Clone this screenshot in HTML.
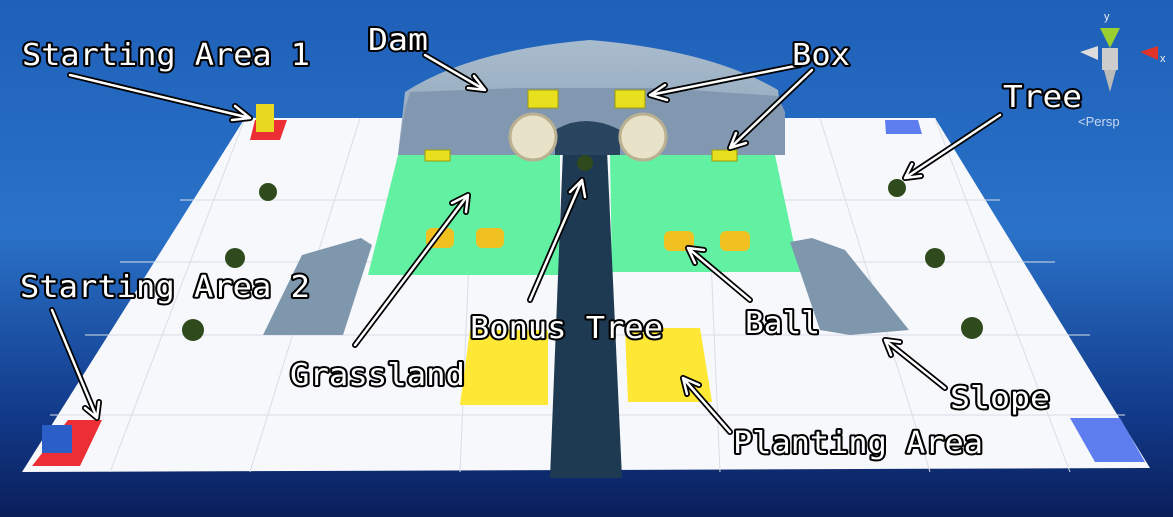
<!DOCTYPE html>
<html><head><meta charset="utf-8"><style>
html,body{margin:0;padding:0;width:1173px;height:517px;overflow:hidden;background:#1d5fb5}
svg{display:block}
.lbl{font-family:"DejaVu Sans Mono","Liberation Mono",monospace;font-size:30px;fill:#fff;stroke:#000;stroke-width:4px;paint-order:stroke;stroke-linejoin:round}
</style></head><body>
<svg width="1173" height="517" viewBox="0 0 1173 517" xmlns="http://www.w3.org/2000/svg">
<defs>
<linearGradient id="sky" x1="0" y1="0" x2="0" y2="1">
<stop offset="0" stop-color="#1f60b8"/><stop offset="0.45" stop-color="#2a72c8"/><stop offset="0.8" stop-color="#123a8a"/><stop offset="1" stop-color="#0a1f5a"/>
</linearGradient>
<linearGradient id="dam" x1="0" y1="0" x2="0" y2="1">
<stop offset="0" stop-color="#a9bccd"/><stop offset="1" stop-color="#8ea4ba"/>
</linearGradient>
</defs>
<rect width="1173" height="517" fill="url(#sky)"/>
<polygon points="245,118 935,118 1150,468 22,472" fill="#f6f8fb"/>
<g stroke="#d8dde6" stroke-width="1" fill="none">
<line x1="180" y1="200" x2="1000" y2="200"/><line x1="120" y1="262" x2="1055" y2="262"/><line x1="85" y1="335" x2="1090" y2="335"/><line x1="50" y1="415" x2="1125" y2="415"/>
<line x1="360" y1="118" x2="250" y2="472"/><line x1="475" y1="118" x2="460" y2="472"/><line x1="705" y1="118" x2="720" y2="472"/><line x1="820" y1="118" x2="930" y2="472"/>
<line x1="245" y1="118" x2="110" y2="472"/><line x1="935" y1="118" x2="1070" y2="472"/>
</g>
<polygon points="398,155 560,155 560,275 368,275" fill="#62f0a2"/>
<polygon points="610,155 775,155 800,272 612,272" fill="#62f0a2"/>
<polygon points="563,150 607,150 622,478 550,478" fill="#1e3a52"/>
<path d="M398,155 L405,92 Q470,50 590,40 Q710,50 778,90 L785,155 Z" fill="url(#dam)"/>
<polygon points="405,110 410,92 520,88 660,88 778,96 785,112 785,155 398,155" fill="#8298b0"/>
<path d="M555,155 L555,130 Q585,112 620,130 L620,155 Z" fill="#2a4560"/>
<g fill="#e8e2c8" stroke="#b9b091" stroke-width="3">
<circle cx="533" cy="137" r="23"/><circle cx="643" cy="137" r="23"/></g>
<g fill="#e8e01e" stroke="#9a9a10" stroke-width="1">
<rect x="528" y="90" width="30" height="18"/><rect x="615" y="90" width="30" height="18"/>
<rect x="425" y="150" width="25" height="11"/><rect x="712" y="150" width="25" height="11"/>
</g>
<polygon points="263,335 302,255 361,238 372,245 343,335" fill="#7e97ac"/>
<polygon points="790,242 812,238 845,250 909,330 850,335 820,330" fill="#7e97ac"/>
<polygon points="470,330 548,330 548,405 460,405" fill="#ffe735"/>
<polygon points="625,328 700,328 712,402 628,402" fill="#ffe735"/>
<polygon points="32,466 68,420 102,420 80,466" fill="#ec2f35"/>
<rect x="42" y="425" width="30" height="28" fill="#2c5ec8"/>
<polygon points="250,140 255,120 287,120 280,140" fill="#ec2f35"/>
<rect x="256" y="104" width="18" height="28" fill="#e8d822"/>
<polygon points="885,120 918,120 922,134 886,134" fill="#5e7ef0"/>
<polygon points="1070,418 1120,418 1145,462 1095,462" fill="#5e7ef0"/>
<g fill="#2f4a1c"><circle cx="268" cy="192" r="9"/><circle cx="235" cy="258" r="10"/><circle cx="193" cy="330" r="11"/>
<circle cx="897" cy="188" r="9"/><circle cx="935" cy="258" r="10"/><circle cx="972" cy="328" r="11"/><circle cx="585" cy="163" r="8"/></g>
<g fill="#f0c020"><rect x="426" y="228" width="28" height="20" rx="6"/><rect x="476" y="228" width="28" height="20" rx="6"/><rect x="664" y="231" width="30" height="20" rx="6"/><rect x="720" y="231" width="30" height="20" rx="6"/></g>
<g stroke-linecap="round" stroke-linejoin="round">
<g stroke="#000" stroke-width="6" fill="none">
<path d="M70,75 L250,118 M235,106 L250,118 L232,120"/>
<path d="M425,55 L485,90 M468,88 L485,90 L474,76"/>
<path d="M800,65 L650,95 M665,85 L650,95 L667,100"/>
<path d="M812,70 L730,148 M736,133 L730,148 L746,143"/>
<path d="M1000,115 L905,178 M912,164 L905,178 L921,176"/>
<path d="M52,310 L97,418 M85,408 L97,418 L99,402"/>
<path d="M530,300 L582,180 M570,192 L582,180 L585,197"/>
<path d="M750,300 L688,248 M704,250 L688,248 L695,263"/>
<path d="M355,345 L468,195 M452,203 L468,195 L466,212"/>
<path d="M945,388 L885,340 M900,342 L885,340 L891,355"/>
<path d="M730,432 L683,378 M687,394 L683,378 L699,385"/>
</g>
<g stroke="#fff" stroke-width="2.5" fill="none">
<path d="M70,75 L250,118 M235,106 L250,118 L232,120"/>
<path d="M425,55 L485,90 M468,88 L485,90 L474,76"/>
<path d="M800,65 L650,95 M665,85 L650,95 L667,100"/>
<path d="M812,70 L730,148 M736,133 L730,148 L746,143"/>
<path d="M1000,115 L905,178 M912,164 L905,178 L921,176"/>
<path d="M52,310 L97,418 M85,408 L97,418 L99,402"/>
<path d="M530,300 L582,180 M570,192 L582,180 L585,197"/>
<path d="M750,300 L688,248 M704,250 L688,248 L695,263"/>
<path d="M355,345 L468,195 M452,203 L468,195 L466,212"/>
<path d="M945,388 L885,340 M900,342 L885,340 L891,355"/>
<path d="M730,432 L683,378 M687,394 L683,378 L699,385"/>
</g></g>
<polygon points="1100,28 1120,28 1110,48" fill="#9ad030"/>
<polygon points="1140,52 1158,46 1158,60" fill="#e0332a"/>
<polygon points="1080,52 1098,46 1098,60" fill="#ddd"/>
<rect x="1102" y="48" width="16" height="22" fill="#ccc"/>
<polygon points="1104,70 1116,70 1110,92" fill="#bbb"/>
<text x="1078" y="126" font-family="Liberation Sans,sans-serif" font-size="13" fill="#c8d8ee">&lt;Persp</text>
<text x="1104" y="20" font-family="Liberation Sans,sans-serif" font-size="11" fill="#eee">y</text>
<text x="1160" y="62" font-family="Liberation Sans,sans-serif" font-size="11" fill="#eee">x</text>
<text class="lbl" x="22" y="65" textLength="288" lengthAdjust="spacingAndGlyphs">Starting Area 1</text>
<text class="lbl" x="368" y="50" textLength="60" lengthAdjust="spacingAndGlyphs">Dam</text>
<text class="lbl" x="792" y="65" textLength="58" lengthAdjust="spacingAndGlyphs">Box</text>
<text class="lbl" x="1003" y="107" textLength="79" lengthAdjust="spacingAndGlyphs">Tree</text>
<text class="lbl" x="20" y="297" textLength="290" lengthAdjust="spacingAndGlyphs">Starting Area 2</text>
<text class="lbl" x="470" y="338" textLength="193" lengthAdjust="spacingAndGlyphs">Bonus Tree</text>
<text class="lbl" x="745" y="333" textLength="75" lengthAdjust="spacingAndGlyphs">Ball</text>
<text class="lbl" x="290" y="385" textLength="175" lengthAdjust="spacingAndGlyphs">Grassland</text>
<text class="lbl" x="950" y="408" textLength="100" lengthAdjust="spacingAndGlyphs">Slope</text>
<text class="lbl" x="733" y="453" textLength="250" lengthAdjust="spacingAndGlyphs">Planting Area</text>
</svg>
</body></html>
